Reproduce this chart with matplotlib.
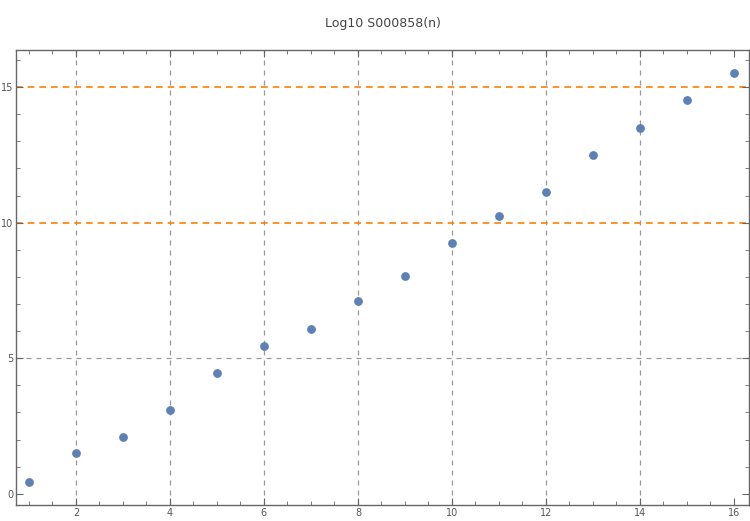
import numpy as np
import matplotlib
matplotlib.use("Agg")
import matplotlib.pyplot as plt
from matplotlib.ticker import MultipleLocator

# values
n = [1, 2, 3, 4, 5, 6, 7, 8, 9, 10, 11, 12, 13, 14, 15, 16]
log_vals = [0.44, 1.51, 2.10, 3.10, 4.46, 5.45, 6.08, 7.11, 8.04, 9.25,
            10.25, 11.13, 12.50, 13.49, 14.52, 15.52]
x_grid = [2, 4, 6, 8, 10, 12, 14]
y_grid_gray = [5]
y_grid_orange = [10, 15]

frame_col = "#666666"
label_col = "#555555"

fig = plt.figure(figsize=(7.5, 5.21), dpi=100)
ax = fig.add_axes([0.021, 0.031, 0.9777, 0.873])

for x in x_grid:
    ax.axvline(x, color="#999999", lw=0.9, ls=(0, (4, 4)), zorder=1)
for y in y_grid_gray:
    ax.axhline(y, color="#999999", lw=0.9, ls=(0, (4, 4)), zorder=1)
for y in y_grid_orange:
    ax.axhline(y, color="#FF8000", lw=1.2, ls=(0, (4, 3)), zorder=1)

ax.scatter(n, log_vals, s=40, color="#5E81B5", zorder=3, linewidths=0)

ax.set_xlim(0.72, 16.32)
ax.set_ylim(-0.41, 16.37)

ax.xaxis.set_major_locator(MultipleLocator(2))
ax.xaxis.set_minor_locator(MultipleLocator(0.5))
ax.yaxis.set_major_locator(MultipleLocator(5))
ax.yaxis.set_minor_locator(MultipleLocator(1))

ax.tick_params(which="both", direction="in", top=True, right=True,
               color=frame_col, labelsize=7, labelcolor=label_col, pad=2)
ax.tick_params(which="major", length=5, width=0.8)
ax.tick_params(which="minor", length=3, width=0.6)
ax.tick_params(axis="y", pad=1.5)

for sp in ax.spines.values():
    sp.set_color(frame_col)
    sp.set_linewidth(1.0)

fig.text(0.51, 0.955, "Log10 S000858(n)", ha="center", va="center",
         fontsize=9, color="#444444")

plt.savefig("out.png", dpi=100)
